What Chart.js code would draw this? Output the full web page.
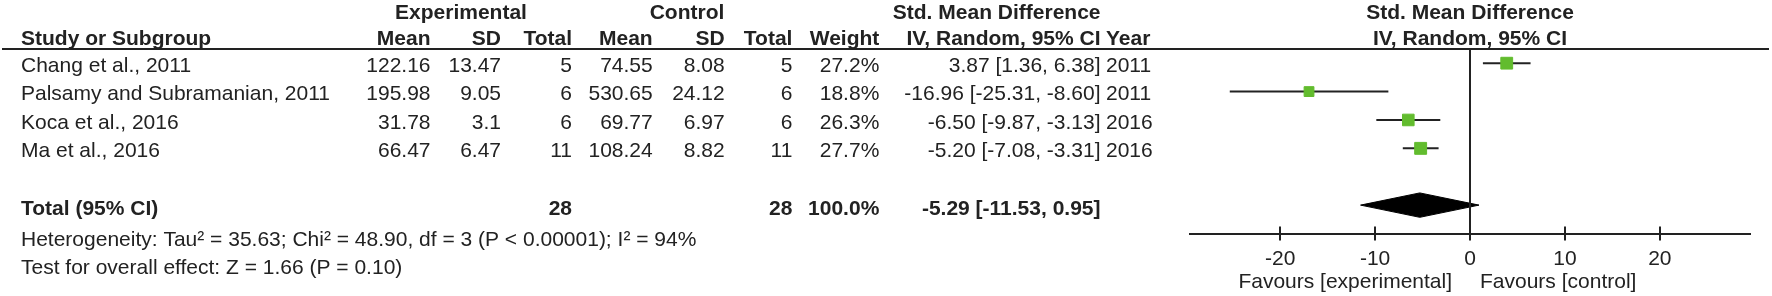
<!DOCTYPE html>
<html>
<head>
<meta charset="utf-8">
<script src="https://cdn.jsdelivr.net/npm/chart.js@4.4.1/dist/chart.umd.min.js"></script>
<style>
  html, body { margin: 0; padding: 0; background: #fff; }
  #forest { display: block; }
</style>
</head>
<body>
<canvas id="forest" width="1772" height="296"></canvas>
<script>
//--------------------------------------------------------------------------------
//--- Input data
//--------------------------------------------------------------------------------

var studies = ['Chang et al., 2011', 'Palsamy and Subramanian, 2011', 'Koca et al., 2016', 'Ma et al., 2016'];
var expMean = ['122.16', '195.98', '31.78', '66.47'];
var expSD = ['13.47', '9.05', '3.1', '6.47'];
var expN = [5, 6, 6, 11];
var ctlMean = ['74.55', '530.65', '69.77', '108.24'];
var ctlSD = ['8.08', '24.12', '6.97', '8.82'];
var ctlN = [5, 6, 6, 11];
var weights = [27.2, 18.8, 26.3, 27.7];
var smd = [3.87, -16.96, -6.50, -5.20];
var ciLow = [1.36, -25.31, -9.87, -7.08];
var ciHigh = [6.38, -8.60, -3.13, -3.31];
var years = [2011, 2011, 2016, 2016];

var totalExpN = 28, totalCtlN = 28, totalWeight = 100.0;
var totalSmd = -5.29, totalLow = -11.53, totalHigh = 0.95;
var tau2 = '35.63', chi2 = '48.90', df = 3, pHet = '0.00001', i2 = 94;
var zValue = '1.66', pOverall = '0.10';

var xTicks = [-20, -10, 0, 10, 20];

//--------------------------------------------------------------------------------
//--- Styling / layout
//--------------------------------------------------------------------------------

var FONT = '"Liberation Sans", Arial, sans-serif';
var FS = 21;
var INK = '#222';
var GREEN = '#62bc2e';
var TOP_Y = 49;
var AXIS_Y = 233.5;
var TEXT_DY = 3;

var col = {study: 21, expMean: 430.5, expSD: 501, expN: 572, ctlMean: 652.7, ctlSD: 724.7,
           ctlN: 792.4, weight: 879.3, ci: 1100.5, year: 1106};

function fmtCI(m, lo, hi) {
    return m.toFixed(2) + ' [' + lo.toFixed(2) + ', ' + hi.toFixed(2) + ']';
}

//--------------------------------------------------------------------------------
//--- Datasets
//--------------------------------------------------------------------------------

var datasets = [];

// confidence interval whiskers
studies.forEach(function (s, i) {
    datasets.push({
        type: 'line', label: s,
        data: [{x: ciLow[i], y: i + 1}, {x: ciHigh[i], y: i + 1}],
        borderColor: INK, borderWidth: 2, pointRadius: 0, fill: false, order: 2
    });
});

// study estimates, square size from weight
datasets.push({
    type: 'scatter', label: 'Std. Mean Difference',
    data: smd.map(function (v, i) { return {x: v, y: i + 1}; }),
    pointStyle: 'rect',
    pointRadius: weights.map(function (w) { return 1.6 * Math.sqrt(w); }),
    backgroundColor: GREEN, borderColor: GREEN, borderWidth: 1, order: 1
});

// pooled diamond
var dh = 0.43;
var totalRow = 6;
datasets.push({
    type: 'line', label: 'Total (95% CI)',
    data: [{x: totalLow, y: totalRow}, {x: totalSmd, y: totalRow - dh}, {x: totalHigh, y: totalRow},
           {x: totalSmd, y: totalRow + dh}, {x: totalLow, y: totalRow}],
    borderColor: '#000', backgroundColor: '#000', borderWidth: 1, pointRadius: 0,
    fill: 'shape', tension: 0, order: 1
});

//--------------------------------------------------------------------------------
//--- Table text plugin
//--------------------------------------------------------------------------------

var forestTable = {
    id: 'forestTable',
    afterDraw: function (chart) {
        var ctx = chart.ctx, xs = chart.scales.x, ys = chart.scales.y, area = chart.chartArea;
        var x0 = xs.getPixelForValue(0);

        function rule(x1, y1, x2, y2) {
            ctx.beginPath(); ctx.moveTo(x1, y1); ctx.lineTo(x2, y2); ctx.stroke();
        }
        function txt(s, x, y, align, bold) {
            ctx.font = (bold ? 'bold ' : '') + FS + 'px ' + FONT;
            ctx.textAlign = align || 'left';
            ctx.textBaseline = 'middle';
            ctx.fillStyle = INK;
            ctx.fillText(s, x, y);
        }

        ctx.save();
        ctx.strokeStyle = INK; ctx.lineWidth = 2;
        rule(2, TOP_Y, 1769, TOP_Y);
        rule(x0, area.top, x0, area.bottom);
        xs.ticks.forEach(function (t, i) {
            var px = Math.round(xs.getPixelForTick(i));
            rule(px, area.bottom - 7, px, area.bottom);
        });

        // headers
        var h1 = 13.5, h2 = 39;
        txt('Experimental', 461, h1, 'center', true);
        txt('Control', 687, h1, 'center', true);
        txt('Std. Mean Difference', col.ci, h1, 'right', true);
        txt('Std. Mean Difference', x0, h1, 'center', true);
        txt('Study or Subgroup', col.study, h2, 'left', true);
        txt('Mean', col.expMean, h2, 'right', true);
        txt('SD', col.expSD, h2, 'right', true);
        txt('Total', col.expN, h2, 'right', true);
        txt('Mean', col.ctlMean, h2, 'right', true);
        txt('SD', col.ctlSD, h2, 'right', true);
        txt('Total', col.ctlN, h2, 'right', true);
        txt('Weight', col.weight, h2, 'right', true);
        txt('IV, Random, 95% CI', col.ci, h2, 'right', true);
        txt('Year', col.year, h2, 'left', true);
        txt('IV, Random, 95% CI', x0, h2, 'center', true);

        // study rows
        studies.forEach(function (s, i) {
            var y = ys.getPixelForValue(i + 1) + TEXT_DY;
            txt(s, col.study, y, 'left');
            txt(expMean[i], col.expMean, y, 'right');
            txt(expSD[i], col.expSD, y, 'right');
            txt(String(expN[i]), col.expN, y, 'right');
            txt(ctlMean[i], col.ctlMean, y, 'right');
            txt(ctlSD[i], col.ctlSD, y, 'right');
            txt(String(ctlN[i]), col.ctlN, y, 'right');
            txt(weights[i].toFixed(1) + '%', col.weight, y, 'right');
            txt(fmtCI(smd[i], ciLow[i], ciHigh[i]), col.ci, y, 'right');
            txt(String(years[i]), col.year, y, 'left');
        });

        // total row
        var yt = ys.getPixelForValue(totalRow) + 4;
        txt('Total (95% CI)', col.study, yt, 'left', true);
        txt(String(totalExpN), col.expN, yt, 'right', true);
        txt(String(totalCtlN), col.ctlN, yt, 'right', true);
        txt(totalWeight.toFixed(1) + '%', col.weight, yt, 'right', true);
        txt(fmtCI(totalSmd, totalLow, totalHigh), col.ci, yt, 'right', true);

        txt('Heterogeneity: Tau\u00b2 = ' + tau2 + '; Chi\u00b2 = ' + chi2 + ', df = ' + df +
            ' (P < ' + pHet + '); I\u00b2 = ' + i2 + '%', col.study, 240, 'left');
        txt('Test for overall effect: Z = ' + zValue + ' (P = ' + pOverall + ')', col.study, 268, 'left');

        txt('Favours [experimental]', x0 - 18, 282, 'right');
        txt('Favours [control]', x0 + 10, 282, 'left');
        ctx.restore();
    }
};

//--------------------------------------------------------------------------------
//--- Forest plot
//--------------------------------------------------------------------------------

var forest_chart = new Chart(document.getElementById('forest').getContext('2d'), {
    type: 'scatter',
    data: {datasets: datasets},
    options: {
        responsive: false, animation: false,
        layout: {padding: {left: 1190, right: 22, top: TOP_Y, bottom: 0}},
        plugins: {legend: {display: false}, tooltip: {enabled: false}},
        scales: {
            x: {
                type: 'linear', min: -29.5, max: 29.5,
                afterBuildTicks: function (scale) {
                    scale.ticks = xTicks.map(function (v) { return {value: v}; });
                },
                afterFit: function (scale) { scale.height = 296 - AXIS_Y; },
                ticks: {font: {family: FONT, size: FS}, color: INK, padding: 6},
                grid: {display: true, drawOnChartArea: false, drawTicks: true, tickLength: 7,
                       color: INK, lineWidth: 2},
                border: {display: true, color: INK, width: 2}
            },
            y: {type: 'linear', display: false, reverse: true, min: 0.5, max: 7}
        }
    },
    plugins: [forestTable]
});
</script>
</body>
</html>
